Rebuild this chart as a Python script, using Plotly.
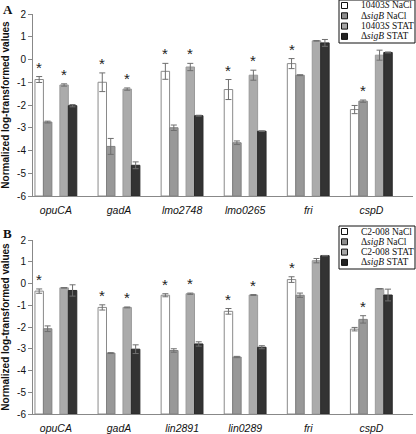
import plotly.graph_objects as go

# ---------------- data ----------------
genes_A = ["opuCA", "gadA", "lmo2748", "lmo0265", "fri", "cspD"]
A_wt_nacl = [-0.88, -1.0, -0.52, -1.32, -0.18, -2.2]
A_wt_nacl_err = [0.13, 0.41, 0.35, 0.44, 0.22, 0.18]
A_sig_nacl = [-2.75, -3.82, -3.0, -3.66, -0.69, -1.83]
A_sig_nacl_err = [0.04, 0.35, 0.12, 0.08, 0.02, 0.05]
A_wt_stat = [-1.12, -1.3, -0.33, -0.69, 0.82, 0.19]
A_wt_stat_err = [0.05, 0.05, 0.16, 0.22, 0.01, 0.22]
A_sig_stat = [-2.03, -4.65, -2.47, -3.15, 0.73, 0.31]
A_sig_stat_err = [0.05, 0.15, 0.02, 0.01, 0.15, 0.02]
A_star_wt_nacl = [True, True, True, True, True, False]
A_star_sig_nacl = [False, False, False, False, False, True]
A_star_wt_stat = [True, True, True, True, False, False]

genes_B = ["opuCA", "gadA", "lin2891", "lin0289", "fri", "cspD"]
B_wt_nacl = [-0.35, -1.1, -0.54, -1.28, 0.18, -2.1]
B_wt_nacl_err = [0.1, 0.12, 0.07, 0.13, 0.13, 0.08]
B_sig_nacl = [-2.08, -3.2, -3.08, -3.38, -0.54, -1.65]
B_sig_nacl_err = [0.13, 0.02, 0.08, 0.03, 0.1, 0.17]
B_wt_stat = [-0.2, -1.1, -0.47, -0.53, 1.05, -0.24]
B_wt_stat_err = [0.01, 0.02, 0.03, 0.02, 0.1, 0.01]
B_sig_stat = [-0.32, -3.02, -2.78, -2.93, 1.28, -0.53]
B_sig_stat_err = [0.26, 0.2, 0.1, 0.07, 0.01, 0.27]
B_star_wt_nacl = [True, True, True, True, True, False]
B_star_sig_nacl = [False, False, False, False, False, True]
B_star_wt_stat = [False, True, True, True, False, False]

legend_A = ["10403<i>S</i> NaCl", "Δ<i>sigB</i> NaCl", "10403<i>S</i> STAT", "Δ<i>sigB</i> STAT"]
legend_B = ["C2-008 NaCl", "Δ<i>sigB</i> NaCl", "C2-008 STAT", "Δ<i>sigB</i> STAT"]
y_ticks = [2, 1, 0, -1, -2, -3, -4, -5, -6]
y_floor = -6

# ---------------- styles ----------------
W, H = 416, 434
fills = ["#ffffff", "#989898", "#ababab", "#333333"]
lines = ["#8a8a8a", "#808080", "#9a9a9a", "#2a2a2a"]
swatch = ["#ffffff", "#8c8c8c", "#a6a6a6", "#222222"]
offsets = [-0.332, -0.198, 0.063, 0.197]
bw = 0.134
SANS = "Liberation Sans"
SERIF = "Liberation Serif"

fig = go.Figure()

def add_panel(xa, ya, genes, series, errs, stars, names):
    xs = list(range(len(genes)))
    for k, (vals, er) in enumerate(zip(series, errs)):
        fig.add_trace(go.Bar(
            x=xs, y=[v - y_floor for v in vals], base=y_floor,
            offset=offsets[k], width=bw,
            marker=dict(color=fills[k], line=dict(color=lines[k], width=1)),
            name=names[k], showlegend=False, hoverinfo="skip", xaxis=xa, yaxis=ya))
        fig.add_trace(go.Scatter(
            x=[i + offsets[k] + bw / 2 for i in xs], y=vals, mode="markers",
            marker=dict(size=1, opacity=0),
            error_y=dict(type="data", array=er, visible=True, color="#6f6f6f",
                         thickness=1, width=3),
            showlegend=False, hoverinfo="skip", xaxis=xa, yaxis=ya))
    axn = xa.replace("x", "")
    for k, flags in stars.items():
        for i, f in enumerate(flags):
            if f:
                fig.add_annotation(
                    x=i + offsets[k] + bw / 2, y=series[k][i] + errs[k][i],
                    xref="x" + axn, yref="y" + axn, text="*", showarrow=False,
                    xanchor="center", yanchor="bottom", yshift=-1,
                    font=dict(family=SANS, size=15, color="#222"))

add_panel("x", "y", genes_A,
          [A_wt_nacl, A_sig_nacl, A_wt_stat, A_sig_stat],
          [A_wt_nacl_err, A_sig_nacl_err, A_wt_stat_err, A_sig_stat_err],
          {0: A_star_wt_nacl, 1: A_star_sig_nacl, 2: A_star_wt_stat}, legend_A)
add_panel("x2", "y2", genes_B,
          [B_wt_nacl, B_sig_nacl, B_wt_stat, B_sig_stat],
          [B_wt_nacl_err, B_sig_nacl_err, B_wt_stat_err, B_sig_stat_err],
          {0: B_star_wt_nacl, 1: B_star_sig_nacl, 2: B_star_wt_stat}, legend_B)

xdom = [33 / W, 413 / W]
ydomA = [1 - 196 / H, 1 - 14 / H]
ydomB = [1 - 414 / H, 1 - 240 / H]
xrange = [-0.363, 5.66]

def xaxis(genes, anchor):
    return dict(domain=xdom, range=xrange, anchor=anchor, automargin=False,
                tickmode="array", tickvals=list(range(len(genes))), ticktext=genes,
                ticks="", ticklabelstandoff=4,
                tickfont=dict(family=SANS, size=10.5, color="#111", style="italic"),
                showline=True, linecolor="#888", linewidth=1,
                showgrid=False, zeroline=False, fixedrange=True)

def yaxis(dom, anchor):
    return dict(domain=dom, range=[-6, 2], anchor=anchor, automargin=False,
                tickmode="array", tickvals=y_ticks, ticktext=[str(v) for v in y_ticks],
                ticks="outside", ticklen=4, tickcolor="#888",
                tickfont=dict(family=SANS, size=10, color="#111"),
                showline=True, linecolor="#888", linewidth=1,
                showgrid=False, zeroline=False, fixedrange=True,
                title=dict(text="<b>Normalized log-transformed values</b>",
                           font=dict(family=SANS, size=10, color="#111"), standoff=6))

fig.update_layout(
    width=W, height=H, margin=dict(l=0, r=0, t=0, b=0, pad=0, autoexpand=False),
    paper_bgcolor="white", plot_bgcolor="white", showlegend=False,
    barmode="overlay",
    xaxis=xaxis(genes_A, "y"), yaxis=yaxis(ydomA, "x"),
    xaxis2=xaxis(genes_B, "y2"), yaxis2=yaxis(ydomB, "x2"),
)

# panel letters
fig.add_annotation(text="<b>A</b>", x=1 / W, y=1 - 0 / H, xref="paper", yref="paper",
                   xanchor="left", yanchor="top", showarrow=False,
                   font=dict(family=SERIF, size=13, color="#111"))
fig.add_annotation(text="<b>B</b>", x=1 / W, y=1 - 224 / H, xref="paper", yref="paper",
                   xanchor="left", yanchor="top", showarrow=False,
                   font=dict(family=SERIF, size=13, color="#111"))

# manual legends
def add_legend(top_px, labels):
    box = (339, top_px, 415, top_px + 43)
    fig.add_shape(type="rect", xref="paper", yref="paper",
                  x0=box[0] / W, x1=box[2] / W, y0=1 - box[3] / H, y1=1 - box[1] / H,
                  line=dict(color="#111", width=1), fillcolor="white")
    for k, lab in enumerate(labels):
        cy = top_px + 5.5 + 10.3 * k
        fig.add_shape(type="rect", xref="paper", yref="paper",
                      x0=341.5 / W, x1=347.5 / W, y0=1 - (cy + 3) / H, y1=1 - (cy - 3) / H,
                      line=dict(color="#111", width=1), fillcolor=swatch[k])
        fig.add_annotation(text=lab, x=360 / W, y=1 - cy / H, xref="paper", yref="paper",
                           xanchor="left", yanchor="middle", showarrow=False, borderpad=0,
                           font=dict(family=SERIF, size=9.5, color="#111"))

add_legend(0, legend_A)
add_legend(226, legend_B)

fig.write_html(
    "out.html",
    config={"displayModeBar": False, "staticPlot": True},
    post_script=(
        "document.documentElement.style.margin='0';"
        "document.documentElement.style.overflow='hidden';"
        "document.body.style.margin='0';document.body.style.overflow='hidden';"
        "var d=document.getElementById('{plot_id}');"
        "d.parentElement.style.height='434px';d.parentElement.style.width='416px';"
        "d.parentElement.style.overflow='hidden';"
    ),
)
